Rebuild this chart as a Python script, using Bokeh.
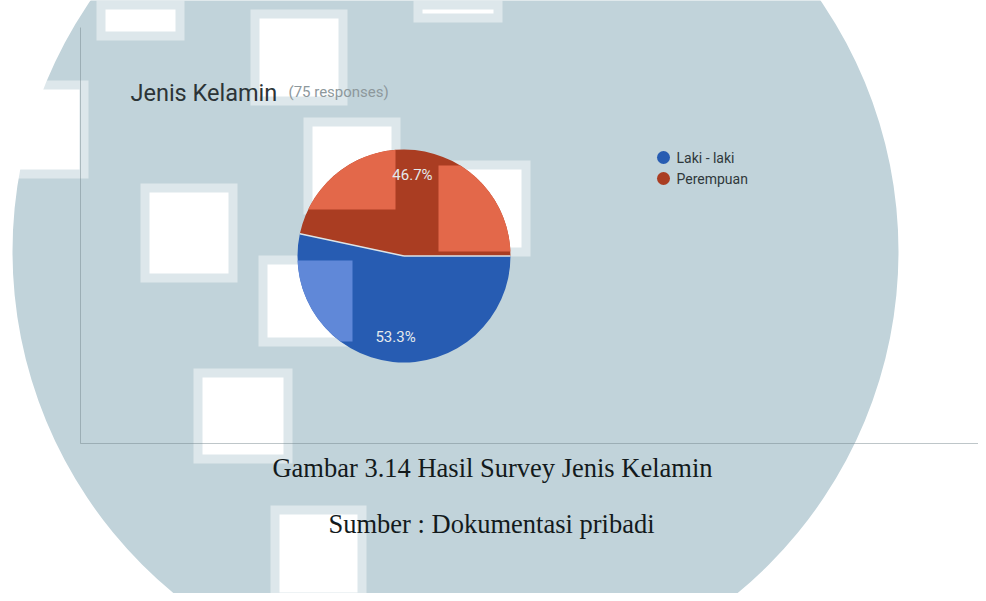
import numpy as np
from bokeh.plotting import figure
from bokeh.models import Range1d
from bokeh.core.properties import value
from bokeh.embed import file_html
from bokeh.resources import INLINE

# ---- data ----
chart_title = "Jenis Kelamin"
chart_subtitle = "(75 responses)"
categories = ["Laki - laki", "Perempuan"]
counts = [40, 35]
slice_colors = ["#275cb2", "#aa3d22"]
slice_light_colors = ["#6088d8", "#e3684a"]
caption = "Gambar 3.14 Hasil Survey Jenis Kelamin"
source_note = "Sumber : Dokumentasi pribadi"

# ---- layout / decoration (pixel space of the page image) ----
W, H = 978, 593
PIE_CX, PIE_CY, PIE_R = 403.5, 255.5, 106.5
LABEL_R = 81
wm_circle = (455, 251, 443)
wm_squares = [(96, 0, 184, 40), (250, 9, 347, 105), (413, 0, 502, 22), (0, 80, 88, 178),
              (303, 117, 400, 214), (433, 160, 530, 256), (140, 183, 237, 282),
              (258, 255, 357, 346), (193, 368, 292, 463), (270, 505, 366, 601)]

def Y(py):
    return -py

p = figure(width=W, height=H, x_range=Range1d(0, W), y_range=Range1d(-H, 0),
           output_backend="svg", toolbar_location=None, min_border=0,
           x_axis_location=None, y_axis_location=None,
           background_fill_color="white", border_fill_color="white",
           outline_line_color=None)
p.grid.visible = False

# watermark background
p.circle(x=[wm_circle[0]], y=[Y(wm_circle[1])], radius=wm_circle[2],
         fill_color="#c1d3da", line_color=None)
HALO = 9
p.quad(left=[s[0] for s in wm_squares], right=[s[2] for s in wm_squares],
       top=[Y(s[1]) for s in wm_squares], bottom=[Y(s[3]) for s in wm_squares],
       fill_color="white", fill_alpha=0.45, line_color=None)
p.quad(left=[s[0] + HALO for s in wm_squares], right=[s[2] - HALO for s in wm_squares],
       top=[Y(s[1] + HALO) for s in wm_squares], bottom=[Y(s[3] - HALO) for s in wm_squares],
       fill_color="white", line_color=None)

# axis-like frame lines
p.segment(x0=[80, 80], y0=[Y(27), Y(443)], x1=[80, 986], y1=[Y(443), Y(443)],
          line_color="#6f8188", line_alpha=0.45, line_width=1)

# ---- pie ----
total = float(sum(counts))
fracs = [c / total for c in counts]
cum = np.concatenate([[0.0], np.cumsum(fracs)])
starts = [-2 * np.pi * cum[i] for i in range(len(counts))]
ends = [-2 * np.pi * cum[i + 1] for i in range(len(counts))]
cx, cy = PIE_CX, Y(PIE_CY)

p.wedge(x=[cx] * len(counts), y=[cy] * len(counts), radius=PIE_R,
        start_angle=starts, end_angle=ends, direction="clock",
        fill_color=slice_colors, line_color=None)

def wedge_poly(a0, a1, n=240):
    t = np.linspace(a0, a1, n)
    return [(cx, cy)] + [(cx + PIE_R * np.cos(a), cy + PIE_R * np.sin(a)) for a in t]

def clip_rect(poly, xmin, xmax, ymin, ymax):
    def clip_edge(pts, inside, inter):
        out = []
        for i in range(len(pts)):
            cur, prev = pts[i], pts[i - 1]
            if inside(cur):
                if not inside(prev):
                    out.append(inter(prev, cur))
                out.append(cur)
            elif inside(prev):
                out.append(inter(prev, cur))
        return out
    def ix(xc):
        return lambda a, b: (xc, a[1] + (b[1] - a[1]) * (xc - a[0]) / (b[0] - a[0]))
    def iy(yc):
        return lambda a, b: (a[0] + (b[0] - a[0]) * (yc - a[1]) / (b[1] - a[1]), yc)
    pts = poly
    for inside, inter in [(lambda q: q[0] >= xmin, ix(xmin)), (lambda q: q[0] <= xmax, ix(xmax)),
                          (lambda q: q[1] >= ymin, iy(ymin)), (lambda q: q[1] <= ymax, iy(ymax))]:
        if not pts:
            break
        pts = clip_edge(pts, inside, inter)
    return pts

lx, ly, lc = [], [], []
for i in range(len(counts)):
    poly = wedge_poly(starts[i], ends[i])
    for s in wm_squares:
        inset = 5
        c = clip_rect(poly, s[0] + inset, s[2] - inset, Y(s[3] - inset), Y(s[1] + inset))
        if len(c) >= 3:
            lx.append([q[0] for q in c])
            ly.append([q[1] for q in c])
            lc.append(slice_light_colors[i])
p.patches(xs=lx, ys=ly, fill_color=lc, line_color=None)

# slice separators
bx = [cx + PIE_R * np.cos(a) for a in starts]
by = [cy + PIE_R * np.sin(a) for a in starts]
p.segment(x0=[cx] * len(bx), y0=[cy] * len(by), x1=bx, y1=by,
          line_color="#dde5e8", line_width=1.5)

# slice labels
mids = [(s + e) / 2 for s, e in zip(starts, ends)]
labels = [f"{100 * f:.1f}%" for f in fracs]
p.text(x=[cx + LABEL_R * np.cos(m) for m in mids], y=[cy + LABEL_R * np.sin(m) for m in mids],
       text=labels, text_align="center", text_baseline="middle",
       text_font=value("Roboto"), text_font_size="15px", text_color="#e4eaed")

# title
p.text(x=[130], y=[Y(92)], text=[chart_title], text_font=value("Roboto"),
       text_font_size="23.5px", text_color="#2c3437", text_baseline="alphabetic")
p.text(x=[288], y=[Y(91)], text=[chart_subtitle], text_font=value("Roboto"),
       text_font_size="15px", text_color="#8d989c", text_baseline="alphabetic")

# legend
leg_y = [157, 178]
p.scatter(x=[663] * len(categories), y=[Y(v) for v in leg_y], size=13,
          fill_color=slice_colors, line_color=None)
p.text(x=[676] * len(categories), y=[Y(v) for v in leg_y], text=categories,
       text_font=value("Roboto"), text_font_size="14px", text_color="#2f383b",
       text_baseline="middle")

# captions
p.text(x=[492], y=[Y(467)], text=[caption], text_align="center", text_baseline="alphabetic",
       text_font=value("Liberation Serif"), text_font_size="26.5px", text_color="#131a1c")
p.text(x=[491], y=[Y(523)], text=[source_note], text_align="center", text_baseline="alphabetic",
       text_font=value("Liberation Serif"), text_font_size="26.5px", text_color="#131a1c")

open("out.html", "w").write(file_html(p, INLINE))
